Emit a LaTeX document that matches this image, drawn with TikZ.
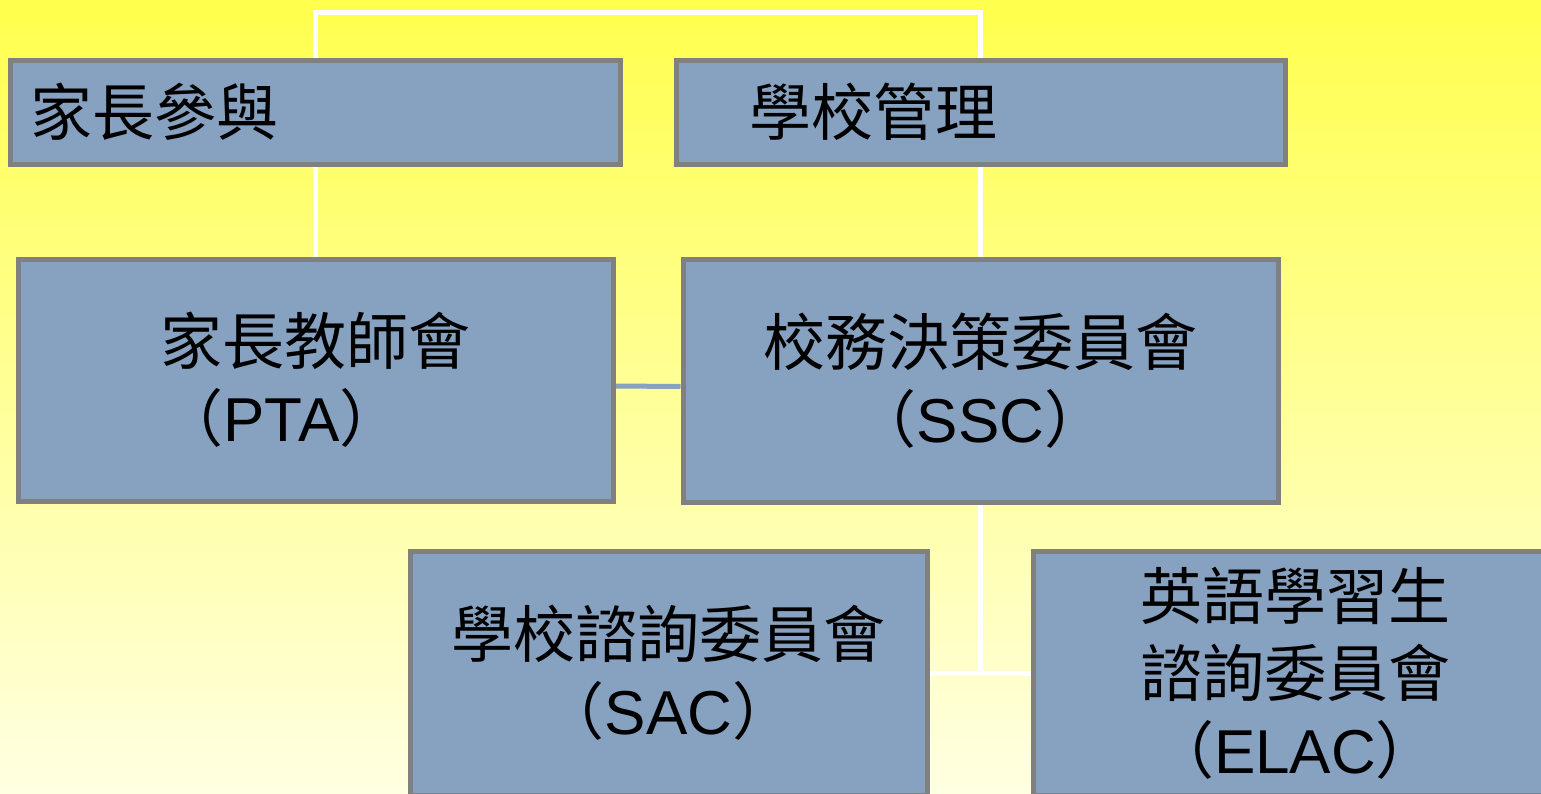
\documentclass[tikz,border=0pt]{standalone}
\usepackage{fontspec}
\setmainfont{Liberation Sans}
\newfontfamily\cjk{Noto Sans CJK TC}
\usetikzlibrary{backgrounds}
\definecolor{boxfill}{RGB}{135,161,192}
\definecolor{boxline}{RGB}{128,128,128}
\definecolor{skytop}{RGB}{255,255,77}
\definecolor{skybot}{RGB}{255,255,226}
\newcommand{\abbr}[1]{（{\rmfamily #1}）}
\begin{document}
\begin{tikzpicture}[x=1pt,y=-1pt,
  unit/.style={draw=boxline,line width=5pt,fill=boxfill,inner sep=0pt,
    font=\fontsize{62}{77}\selectfont\cjk,align=center},
  head/.style={unit,align=left,minimum height=104pt},
  link/.style={draw=white,line width=5pt}]
  \useasboundingbox (0,0) rectangle (1541,793);
  % top row
  \node[head,inner xsep=20pt,text width=570pt] (parent) at (315,112) {家長參與};
  \node[head,inner xsep=73pt,text width=463pt] (manage) at (980.5,112) {學校管理};
  % middle row
  \node[unit,minimum width=595pt,minimum height=242pt] (pta) at (315.5,380)
    {家長教師會\\\abbr{PTA}\hspace*{68pt}};
  \node[unit,minimum width=595pt,minimum height=243pt] (ssc) at (980.5,380.5)
    {校務決策委員會\\\abbr{SSC}};
  % bottom row
  \node[unit,minimum width=517pt,minimum height=244pt] (sac) at (668.5,673)
    {學校諮詢委員會\\\abbr{SAC}};
  \node[unit,minimum width=524pt,minimum height=244pt] (elac) at (1295,673)
    {英語學習生\\諮詢委員會\\\abbr{ELAC}};
  \coordinate (ridge) at (648,12);
  \begin{scope}[on background layer]
    \shade[top color=skytop,bottom color=skybot] (0,0) rectangle (1541,793);
    \draw[link] (pta.north) |- (ridge) -| (ssc.north);
    \draw[link] (ssc.south) -- (ssc.south |- sac.east);
    \draw[link] (sac.east) -- (elac.west);
    \draw[draw=boxfill,line width=5pt] ([yshift=-6pt]pta.east) -- ([yshift=-6pt]ssc.west);
  \end{scope}
\end{tikzpicture}
\end{document}
